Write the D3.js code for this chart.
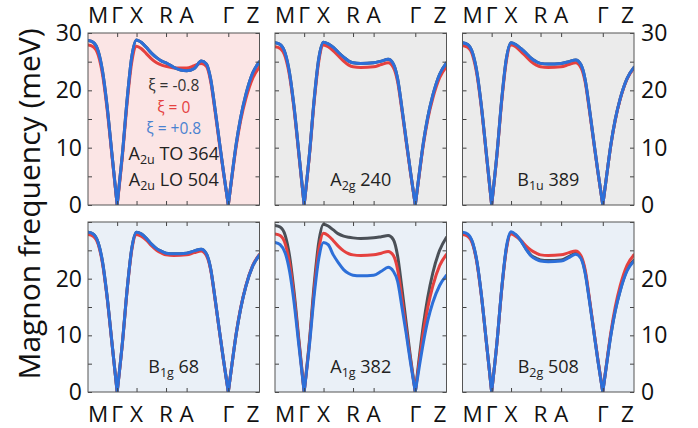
<!DOCTYPE html>
<html><head><meta charset="utf-8">
<script src="https://cdn.jsdelivr.net/npm/d3@7"></script>
<style>
body{margin:0;background:#fff}
svg{display:block;font-family:'Open Sans',sans-serif}
</style>
</head><body><svg id="c" width="698" height="428"></svg>
<script>
// ---- data ----
const kpath = [0, .03, .06, .085, .11, .14, .17, .20, .23, .255, .283, .31, .34, .37, .40, .43, .455, .50, .575, .62, .66, .69, .715, .74, .765, .79, .818, .84, .865, .89, .92, .96, 1.0];
const kTicks = [0, 0.17, 0.283, 0.455, 0.575, 0.818, 1];
const kLabels = ["M", "Γ", "X", "R", "A", "Γ", "Z"];
const yTicksTop = [0, 10, 20, 30];
const yTicksBottom = [0, 10, 20];
const yMinor = [0, 5, 10, 15, 20, 25, 30];
const xiLabels = ["ξ = -0.8", "ξ = 0", "ξ = +0.8"];

const a2u_zero = [27.9, 27.6, 26.1, 22.7, 17.1, 8.5, 0, 8.3, 18.4, 24.9, 27.7, 27.3, 26.4, 25.5, 24.8, 24.4, 24.2, 23.9, 23.9, 24.3, 24.7, 24.2, 21.6, 16.5, 11.0, 5.6, 0, 5.0, 10.4, 14.7, 18.5, 22.1, 24.1];
const a2u_pos  = [28.7, 28.4, 26.8, 23.3, 17.6, 8.8, 0, 8.7, 19.0, 25.8, 28.8, 28.4, 27.5, 26.5, 25.7, 25.1, 24.8, 24.0, 23.4, 23.8, 25.1, 24.6, 22.0, 16.9, 11.3, 5.8, 0, 5.2, 10.8, 15.2, 19.2, 23.0, 25.0];
const a2u_neg  = [28.7, 28.4, 26.8, 23.3, 17.6, 8.8, 0, 8.7, 19.0, 25.8, 28.8, 28.4, 27.5, 26.5, 25.7, 25.1, 24.8, 24.0, 23.4, 23.8, 25.1, 24.6, 22.0, 16.9, 11.3, 5.8, 0, 5.2, 10.8, 15.2, 19.2, 23.0, 25.0];

const a2g_zero = [27.6, 27.3, 25.8, 22.5, 17.0, 8.5, 0, 8.4, 18.5, 25.0, 27.9, 27.6, 26.9, 26.0, 25.1, 24.4, 24.1, 24.0, 24.1, 24.5, 24.8, 24.0, 21.5, 16.5, 11.0, 5.6, 0, 5.0, 10.5, 14.8, 18.6, 22.2, 24.1];
const a2g_pos  = [28.3, 28.0, 26.4, 23.0, 17.4, 8.8, 0, 8.6, 18.9, 25.5, 28.4, 28.1, 27.5, 26.6, 25.8, 25.1, 24.8, 24.7, 24.8, 25.1, 25.4, 24.6, 22.0, 16.9, 11.3, 5.8, 0, 5.2, 10.8, 15.2, 19.1, 22.8, 24.8];
const a2g_neg  = [28.3, 28.0, 26.4, 23.0, 17.4, 8.8, 0, 8.6, 18.9, 25.5, 28.4, 28.1, 27.5, 26.6, 25.8, 25.1, 24.8, 24.7, 24.8, 25.1, 25.4, 24.6, 22.0, 16.9, 11.3, 5.8, 0, 5.2, 10.8, 15.2, 19.1, 22.8, 24.8];

const b1u_zero = [27.8, 27.5, 26.0, 22.6, 17.0, 8.5, 0, 8.4, 18.5, 25.0, 27.9, 27.6, 26.8, 25.9, 25.0, 24.4, 24.1, 24.0, 24.1, 24.5, 24.8, 24.0, 21.5, 16.5, 11.0, 5.6, 0, 5.0, 10.4, 14.7, 18.5, 22.0, 23.9];
const b1u_pos  = [28.3, 28.0, 26.4, 23.0, 17.3, 8.7, 0, 8.6, 18.8, 25.4, 28.3, 28.0, 27.3, 26.5, 25.6, 25.0, 24.7, 24.6, 24.7, 25.0, 25.3, 24.5, 21.9, 16.8, 11.2, 5.7, 0, 5.0, 10.5, 14.8, 18.6, 22.1, 24.0];
const b1u_neg  = [28.3, 28.0, 26.4, 23.0, 17.3, 8.7, 0, 8.6, 18.8, 25.4, 28.3, 28.0, 27.3, 26.5, 25.6, 25.0, 24.7, 24.6, 24.7, 25.0, 25.3, 24.5, 21.9, 16.8, 11.2, 5.7, 0, 5.0, 10.5, 14.8, 18.6, 22.1, 24.0];

const b1g_zero = [27.8, 27.5, 26.0, 22.6, 17.0, 8.5, 0, 8.4, 18.5, 25.0, 27.8, 27.5, 26.8, 25.8, 25.0, 24.5, 24.2, 24.1, 24.2, 24.6, 24.9, 24.1, 21.6, 16.5, 11.0, 5.6, 0, 5.0, 10.5, 14.8, 18.7, 22.3, 24.3];
const b1g_pos  = [28.2, 27.9, 26.3, 22.9, 17.2, 8.6, 0, 8.5, 18.7, 25.3, 28.2, 27.9, 27.1, 26.1, 25.3, 24.8, 24.5, 24.4, 24.5, 24.9, 25.2, 24.4, 21.8, 16.7, 11.1, 5.7, 0, 5.0, 10.4, 14.7, 18.6, 22.2, 24.2];
const b1g_neg  = [28.2, 27.9, 26.3, 22.9, 17.2, 8.6, 0, 8.5, 18.7, 25.3, 28.2, 27.9, 27.1, 26.1, 25.3, 24.8, 24.5, 24.4, 24.5, 24.9, 25.2, 24.4, 21.8, 16.7, 11.1, 5.7, 0, 5.0, 10.4, 14.7, 18.6, 22.2, 24.2];

const a1g_neg  = [29.4, 29.1, 27.6, 24.0, 18.0, 9.0, 0, 8.8, 19.5, 26.4, 29.6, 29.3, 28.6, 27.9, 27.5, 27.3, 27.2, 27.1, 27.2, 27.4, 27.6, 26.9, 24.0, 18.3, 12.2, 6.1, 0, 5.8, 11.8, 16.6, 21.0, 25.0, 27.3];
const a1g_zero = [27.9, 27.6, 26.1, 22.7, 17.1, 8.6, 0, 8.4, 18.5, 25.0, 28.0, 27.6, 26.7, 25.7, 24.9, 24.4, 24.2, 24.1, 24.2, 24.5, 24.8, 24.1, 21.6, 16.5, 11.0, 5.6, 0, 5.0, 10.5, 14.8, 18.7, 22.3, 24.3];
const a1g_pos  = [26.4, 26.0, 24.5, 21.3, 16.1, 8.0, 0, 8.0, 17.5, 23.5, 26.4, 26.0, 24.2, 22.8, 21.6, 20.9, 20.6, 20.5, 20.6, 21.3, 22.0, 21.3, 19.5, 15.0, 10.3, 5.2, 0, 4.2, 8.7, 12.5, 15.8, 18.8, 20.6];

const b2g_neg  = [28.0, 27.7, 26.2, 22.8, 17.1, 8.6, 0, 8.4, 18.6, 25.2, 28.1, 27.7, 26.7, 25.3, 24.1, 23.6, 23.3, 23.2, 23.3, 23.9, 24.5, 23.8, 21.2, 16.3, 10.9, 5.5, 0, 4.9, 10.1, 14.3, 18.0, 21.6, 23.3];
const b2g_zero = [27.8, 27.5, 26.0, 22.6, 17.0, 8.5, 0, 8.4, 18.5, 25.0, 27.9, 27.5, 26.8, 25.8, 25.0, 24.5, 24.2, 24.1, 24.2, 24.6, 24.9, 24.1, 21.6, 16.5, 11.0, 5.6, 0, 5.0, 10.5, 14.9, 18.8, 22.4, 24.2];
const b2g_pos  = [28.2, 27.9, 26.3, 22.9, 17.2, 8.6, 0, 8.5, 18.7, 25.4, 28.3, 27.8, 26.7, 25.2, 24.0, 23.4, 23.1, 23.0, 23.1, 23.7, 24.3, 23.6, 21.0, 16.1, 10.8, 5.4, 0, 4.8, 10.0, 14.2, 17.9, 21.4, 23.1];

// ---- layout ----
const colX = [88, 275, 462.5];
const panelW = 171.5;
const rowY = [33, 222];
const rowH = [172, 170];
const colors = {neg: "#4b5057", zero: "#e5413f", pos: "#2d6fd8"};
const legendColors = ["#333", "#e5413f", "#4a82d0"];

const panels = [
  {row: 0, col: 0, bg: "#fbe5e5", series: [a2u_neg, a2u_zero, a2u_pos], labels: [["A", "2u", " TO 364"], ["A", "2u", " LO 504"]], legend: true},
  {row: 0, col: 1, bg: "#ebebeb", series: [a2g_neg, a2g_zero, a2g_pos], labels: [["A", "2g", " 240"]]},
  {row: 0, col: 2, bg: "#ebebeb", series: [b1u_neg, b1u_zero, b1u_pos], labels: [["B", "1u", " 389"]]},
  {row: 1, col: 0, bg: "#eaf0f7", series: [b1g_neg, b1g_zero, b1g_pos], labels: [["B", "1g", " 68"]]},
  {row: 1, col: 1, bg: "#eaf0f7", series: [a1g_neg, a1g_zero, a1g_pos], labels: [["A", "1g", " 382"]]},
  {row: 1, col: 2, bg: "#eaf0f7", series: [b2g_neg, b2g_zero, b2g_pos], labels: [["B", "2g", " 508"]]}
];

const svg = d3.select("#c");
const segs = [[0, 6], [6, 26], [26, 32]];
const seriesColors = [colors.neg, colors.zero, colors.pos];

panels.forEach((p, pi) => {
  const x0 = colX[p.col], y0 = rowY[p.row], h = rowH[p.row];
  const x = d3.scaleLinear().domain([0, 1]).range([x0, x0 + panelW]);
  const y = d3.scaleLinear().domain([0, 30]).range([y0 + h, y0]);
  const g = svg.append("g");
  g.append("rect").attr("x", x0).attr("y", y0).attr("width", panelW).attr("height", h).attr("fill", p.bg);

  const clipId = "clip" + pi;
  svg.append("clipPath").attr("id", clipId).append("rect")
    .attr("x", x0).attr("y", y0 - 2).attr("width", panelW).attr("height", h + 2);

  const line = d3.line().x(d => x(d[0])).y(d => y(d[1])).curve(d3.curveMonotoneX);
  const lg = g.append("g").attr("clip-path", `url(#${clipId})`);
  p.series.forEach((vals, si) => {
    const pts = kpath.map((k, i) => [k, vals[i]]);
    const dStr = segs.map(([a, b]) => line(pts.slice(a, b + 1))).join("");
    lg.append("path").attr("d", dStr).attr("fill", "none")
      .attr("stroke", seriesColors[si]).attr("stroke-width", 3)
      .attr("stroke-linejoin", "round").attr("stroke-linecap", "round");
  });

  // inner ticks
  const tickStyle = sel => { sel.select(".domain").remove(); sel.selectAll("line").attr("stroke", "#444"); };
  g.append("g").attr("transform", `translate(${x0},0)`)
    .call(d3.axisLeft(y).tickValues(yMinor).tickSize(-4).tickFormat("")).call(tickStyle);
  g.append("g").attr("transform", `translate(${x0 + panelW},0)`)
    .call(d3.axisRight(y).tickValues(yMinor).tickSize(-4).tickFormat("")).call(tickStyle);
  const innerK = kTicks.slice(1, -1);
  g.append("g").attr("transform", `translate(0,${y0})`)
    .call(d3.axisTop(x).tickValues(innerK).tickSize(-4).tickFormat("")).call(tickStyle);
  g.append("g").attr("transform", `translate(0,${y0 + h})`)
    .call(d3.axisBottom(x).tickValues(innerK).tickSize(-4).tickFormat("")).call(tickStyle);

  g.append("rect").attr("x", x0).attr("y", y0).attr("width", panelW).attr("height", h)
    .attr("fill", "none").attr("stroke", "#555").attr("stroke-width", 1);

  // y tick labels
  const yt = p.row === 0 ? yTicksTop : yTicksBottom;
  const labStyle = sel => { sel.select(".domain").remove(); sel.selectAll("text").attr("font-size", 23).attr("fill", "#111").attr("font-family", "'Open Sans',sans-serif"); };
  if (p.col === 0) {
    g.append("g").attr("transform", `translate(${x0},0)`)
      .call(d3.axisLeft(y).tickValues(yt).tickSize(0).tickPadding(6)).call(labStyle);
  }
  if (p.col === 2) {
    g.append("g").attr("transform", `translate(${x0 + panelW},0)`)
      .call(d3.axisRight(y).tickValues(yt).tickSize(0).tickPadding(7)).call(labStyle);
  }

  // k-point labels
  const ky = p.row === 0 ? y0 - 10 : y0 + h + 30;
  kLabels.forEach((lab, i) => {
    const anchor = i === 0 ? "start" : (i === kLabels.length - 1 ? "end" : "middle");
    g.append("text").attr("x", x(kTicks[i])).attr("y", ky).attr("text-anchor", anchor)
      .attr("font-size", 22.5).attr("fill", "#111").text(lab);
  });

  // mode labels
  const cx = x(0.5);
  const baseY = y0 + h - 19;
  const nL = p.labels.length;
  p.labels.forEach((lab, li) => {
    const ty = baseY - (nL - 1 - li) * 26;
    const t = g.append("text").attr("x", cx).attr("y", ty).attr("text-anchor", "middle")
      .attr("font-size", 18).attr("fill", "#222");
    t.append("tspan").text(lab[0]);
    t.append("tspan").attr("font-size", 12.5).attr("dy", 4).text(lab[1]);
    t.append("tspan").attr("dy", -4).text(lab[2]);
  });

  if (p.legend) {
    xiLabels.forEach((s, i) => {
      g.append("text").attr("x", cx).attr("y", y0 + 58 + i * 21.5).attr("text-anchor", "middle")
        .attr("font-size", 15.5).attr("fill", legendColors[i]).text(s);
    });
  }
});

svg.append("text").attr("transform", "translate(40,204) rotate(-90)")
  .attr("text-anchor", "middle").attr("font-size", 30).attr("fill", "#111")
  .text("Magnon frequency (meV)");
</script>
</body></html>
